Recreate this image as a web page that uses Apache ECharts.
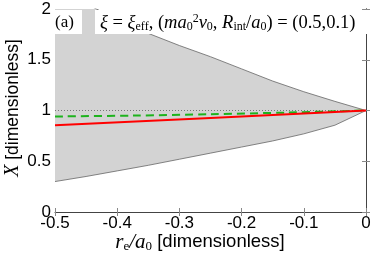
<!DOCTYPE html>
<html><head><meta charset="utf-8">
<script src="https://cdn.jsdelivr.net/npm/echarts@6/dist/echarts.min.js"></script>
<style>html,body{margin:0;padding:0;background:#fff}#c{width:374px;height:258px}</style>
</head><body><div id="c"></div>
<script>
// band boundaries (gray region)
const bandX  = [-0.5, -0.45, -0.4, -0.35, -0.3, -0.25, -0.2, -0.15, -0.1, -0.05, 0];
const upperY = [2.25, 2.05, 1.9, 1.76, 1.64, 1.53, 1.41, 1.29, 1.185, 1.09, 1.0];
const lowerY = [0.30, 0.35, 0.405, 0.46, 0.52, 0.58, 0.64, 0.70, 0.77, 0.855, 1.0];
// red solid curve
const redX = [-0.5, -0.25, 0];
const redY = [0.855, 0.927, 1.0];
// green dashed curve
const greenX = [-0.5, -0.375, -0.25, -0.125, 0];
const greenY = [0.941, 0.95, 0.963, 0.98, 1.0];
// reference dotted line
const refX = [-0.5, 0];
const refY = [1, 1];
// ticks
const xTicks = [-0.5, -0.4, -0.3, -0.2, -0.1, 0];
const yTicks = [0, 0.5, 1, 1.5, 2];

const pairs = (xs, ys) => xs.map((x, i) => [x, ys[i]]);

const chart = echarts.init(document.getElementById('c'), null, {renderer: 'canvas'});
const sans = 'Liberation Sans';
const serif = 'Liberation Serif';
const tickStyle = {show: true, inside: true, length: 4, lineStyle: {color: '#888', width: 1}};
const axisLineStyle = {show: true, lineStyle: {color: '#444', width: 1}};

chart.setOption({
  animation: false,
  grid: {left: 55, right: 8, top: 9, bottom: 46, containLabel: false},
  xAxis: [
    {type: 'value', min: xTicks[0], max: xTicks[xTicks.length - 1], interval: 0.1,
     axisLine: axisLineStyle, axisTick: tickStyle, splitLine: {show: false},
     axisLabel: {fontFamily: sans, fontSize: 17, color: '#000', margin: 3,
       formatter: v => String(Math.round(v * 10) / 10)}},
    {type: 'value', position: 'top', min: xTicks[0], max: xTicks[xTicks.length - 1], interval: 0.1,
     axisLine: {show: false}, axisTick: tickStyle, axisLabel: {show: false}, splitLine: {show: false}}
  ],
  yAxis: [
    {type: 'value', min: yTicks[0], max: yTicks[yTicks.length - 1], interval: 0.5,
     axisLine: axisLineStyle, axisTick: tickStyle, splitLine: {show: false},
     axisLabel: {fontFamily: sans, fontSize: 17, color: '#000', margin: 4}},
    {type: 'value', position: 'right', min: yTicks[0], max: yTicks[yTicks.length - 1], interval: 0.5,
     axisLine: axisLineStyle, axisTick: tickStyle, axisLabel: {show: false}, splitLine: {show: false}}
  ],
  series: [
    {type: 'custom', z: 1, silent: true,
     data: [0],
     renderItem: (params, api) => {
       const pts = [];
       for (let i = 0; i < bandX.length; i++) pts.push(api.coord([bandX[i], upperY[i]]));
       for (let i = bandX.length - 1; i >= 0; i--) pts.push(api.coord([bandX[i], lowerY[i]]));
       const cs = params.coordSys;
       return {type: 'polygon', shape: {points: pts},
         clipPath: {type: 'rect', shape: {x: cs.x, y: cs.y, width: cs.width, height: cs.height}},
         style: {fill: '#d3d3d3', stroke: null}};
     }},
    {type: 'line', data: pairs(bandX, upperY), symbol: 'none',
     lineStyle: {color: '#666', width: 0.8}, z: 2},
    {type: 'line', data: pairs(bandX, lowerY), symbol: 'none',
     lineStyle: {color: '#666', width: 0.8}, z: 2},
    {type: 'line', data: pairs(refX, refY), symbol: 'none',
     lineStyle: {color: '#777', width: 1, type: [1, 2]}, z: 3},
    {type: 'line', data: pairs(greenX, greenY), symbol: 'none', smooth: 0.3,
     lineStyle: {color: '#1db31d', width: 2, type: [8, 5]}, z: 4},
    {type: 'line', data: pairs(redX, redY), symbol: 'none',
     lineStyle: {color: '#ff0000', width: 2}, z: 5}
  ],
  graphic: [
    {type: 'rect', shape: {x: 51, y: 10, width: 31, height: 24}, style: {fill: '#fff'}, z: 100},
    {type: 'rect', shape: {x: 95, y: 10, width: 273, height: 24}, style: {fill: '#fff'}, z: 100},
    {type: 'text', x: 55, y: 23, z: 101, style: {text: '(a)', font: '17px "Liberation Serif"',
      fill: '#000', textVerticalAlign: 'middle'}},
    {type: 'text', x: 100, y: 23, z: 101, style: {
      text: '{i|ξ}{n| = }{i|ξ}{s|eff}{n|, (}{i|ma}{s|0}{p|2}{i|ν}{s|0}{n|, }{i|R}{s|int}{n|/}{i|a}{s|0}{n|) = (0.5,0.1)}',
      textVerticalAlign: 'middle', fill: '#000',
      rich: {
        n: {fontFamily: serif, fontSize: 18.5, fill: '#000'},
        i: {fontFamily: serif, fontSize: 18.5, fontStyle: 'italic', fill: '#000'},
        s: {fontFamily: serif, fontSize: 12, padding: [8, 0, 0, 0], fill: '#000'},
        p: {fontFamily: serif, fontSize: 12, padding: [0, 0, 9, 0], fill: '#000'}
      }}},
    {type: 'text', x: 13, y: 108, rotation: Math.PI / 2, z: 101, style: {
      text: '{i|X}{n| [dimensionless]}', align: 'center', verticalAlign: 'middle',
      rich: {
        i: {fontFamily: serif, fontSize: 20, fontStyle: 'italic', fill: '#000'},
        n: {fontFamily: sans, fontSize: 17.5, fill: '#000'}
      }}},
    {type: 'text', x: 200, y: 242, z: 101, style: {
      text: '{i|r}{s|e}{i|/a}{s|0}{n| [dimensionless]}', align: 'center', verticalAlign: 'middle',
      rich: {
        i: {fontFamily: serif, fontSize: 21, fontStyle: 'italic', fill: '#000'},
        s: {fontFamily: serif, fontSize: 13, padding: [9, 0, 0, 0], fill: '#000'},
        n: {fontFamily: sans, fontSize: 18.5, fill: '#000'}
      }}}
  ]
});
</script></body></html>
